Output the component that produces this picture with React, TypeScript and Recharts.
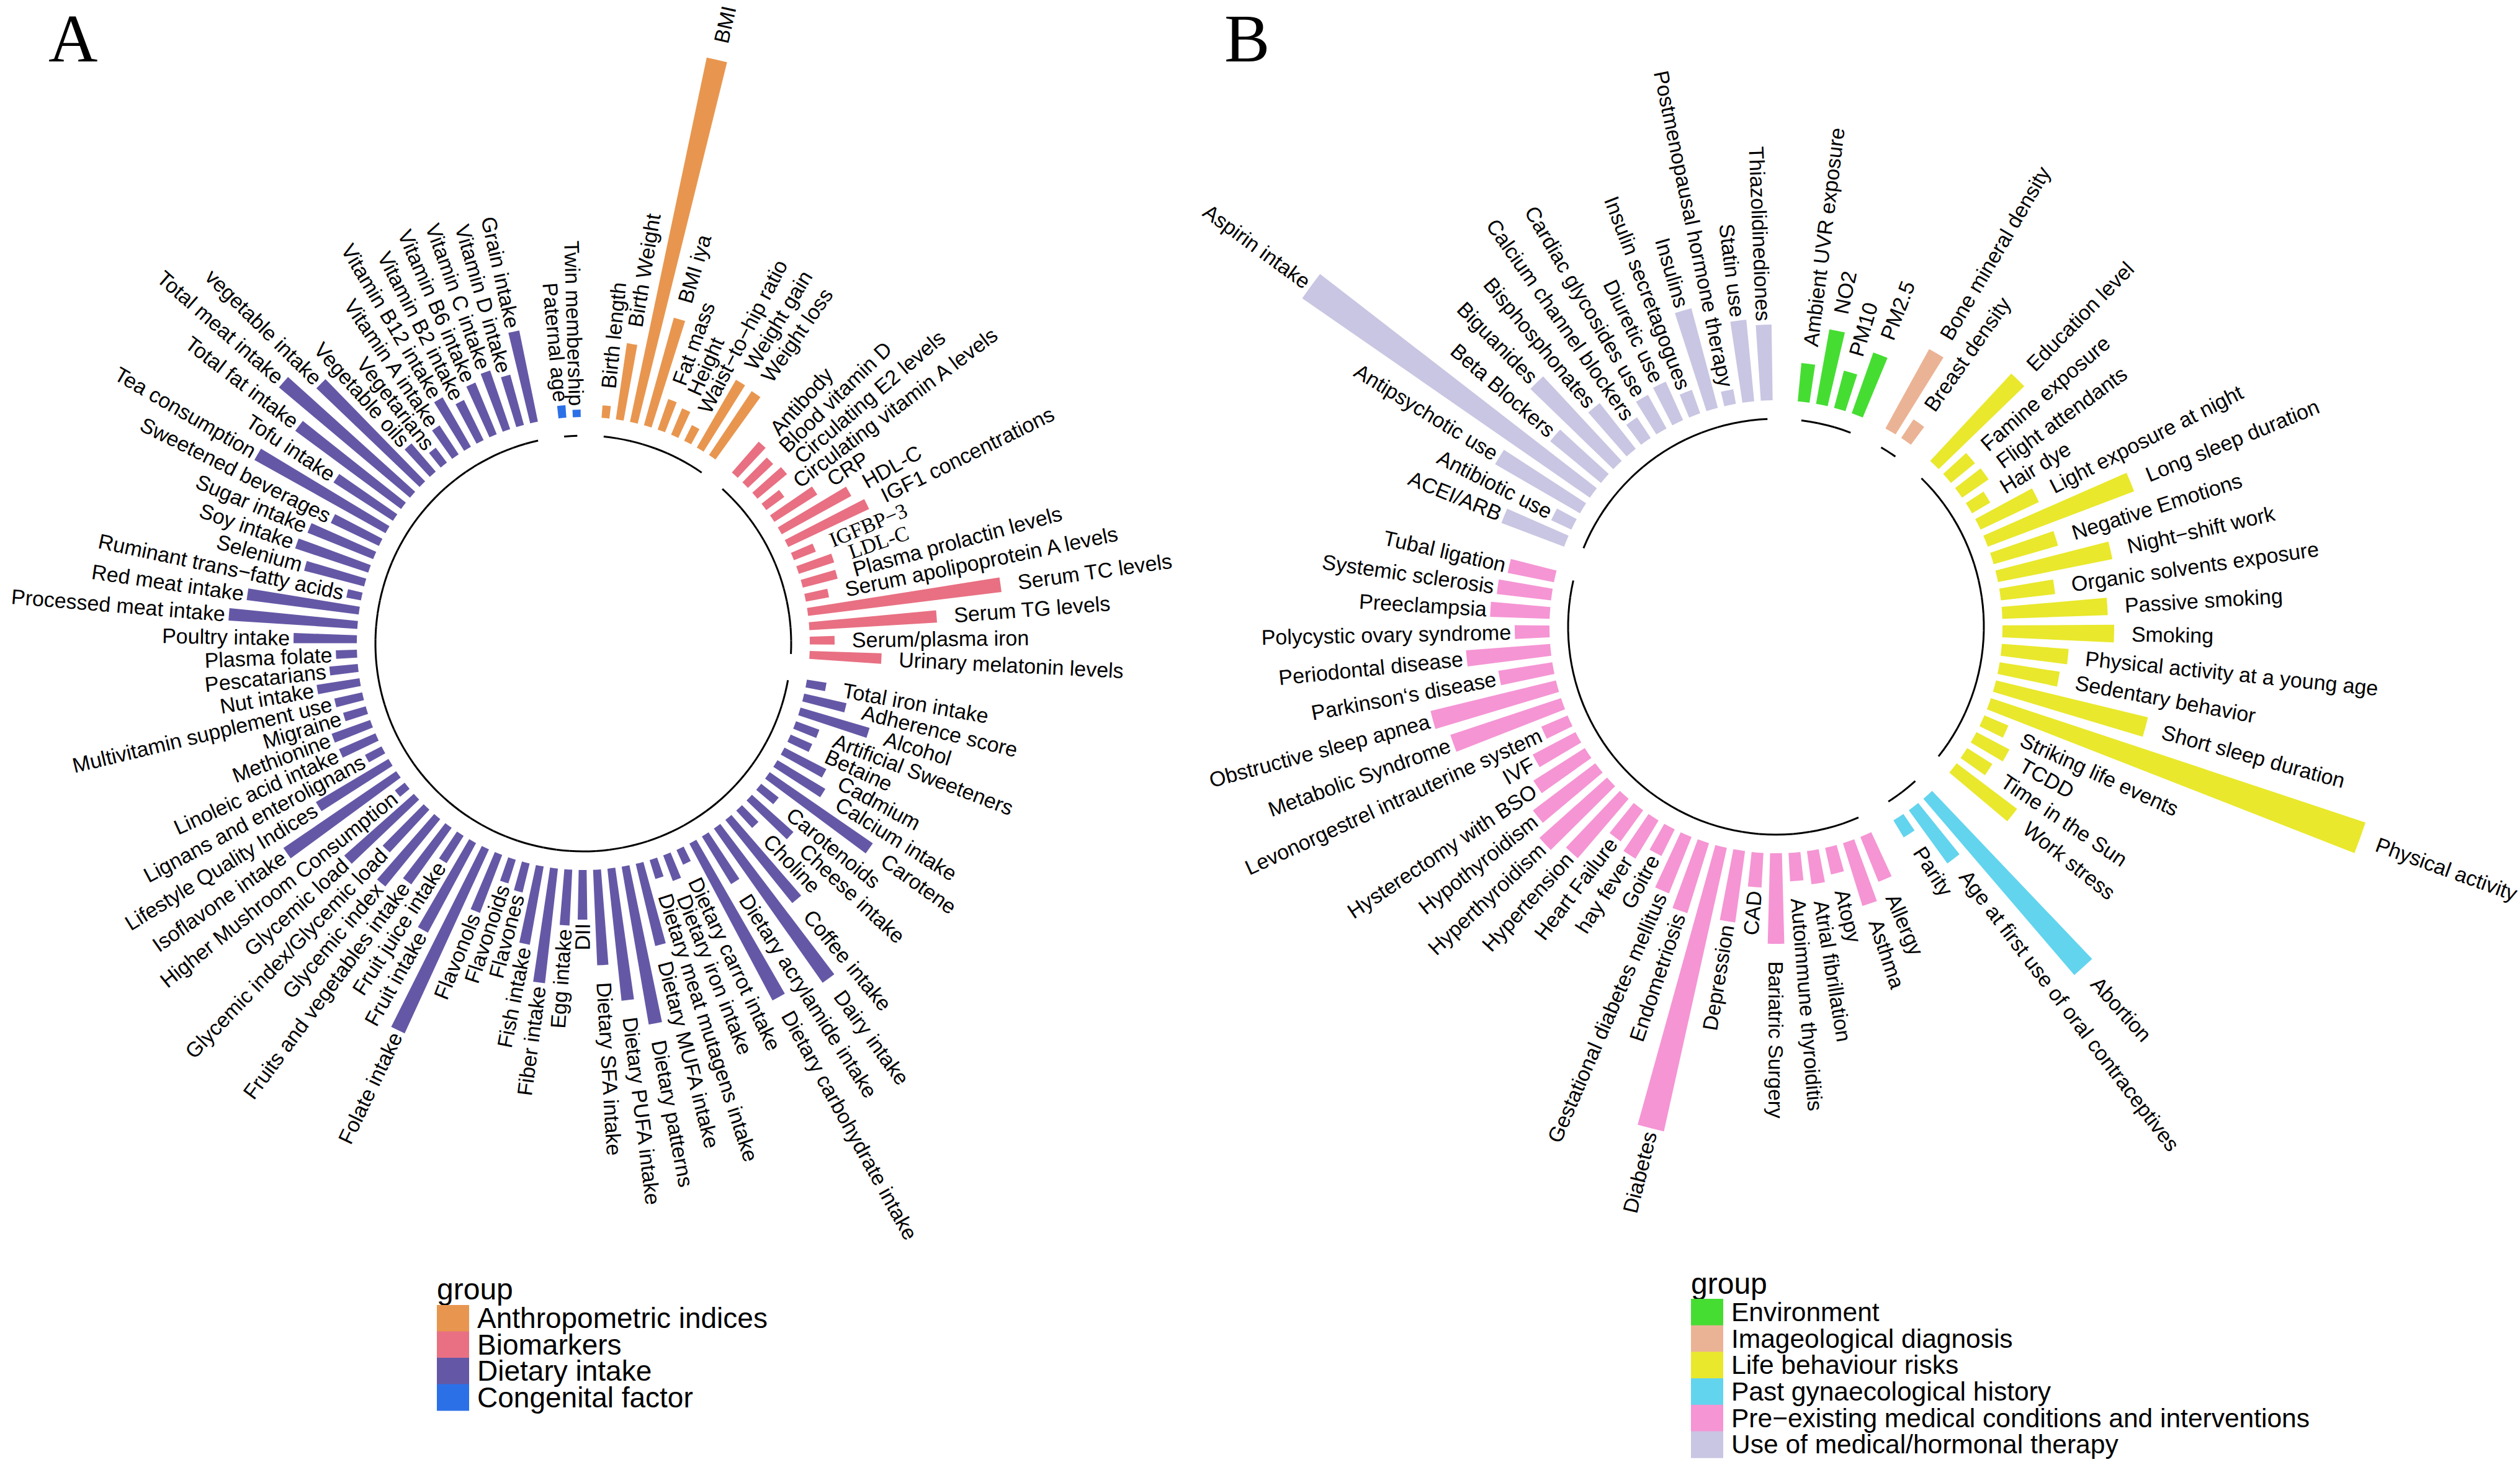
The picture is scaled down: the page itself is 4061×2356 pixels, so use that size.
import React from 'react';
import { RadialBarChart, RadialBar, PolarAngleAxis, PolarRadiusAxis, Sector } from 'recharts';

// ---------------- Panel A data ----------------
const anthroNames = ['Birth length', 'Birth Weight', 'BMI', 'BMI iya', 'Fat mass', 'Height', 'Waist−to−hip ratio', 'Weight gain', 'Weight loss'];
const anthroValues = [1.0, 6.2, 30.0, 9.0, 2.6, 2.3, 1.4, 6.3, 6.2];

const bioNames = ['Antibody', 'Blood vitamin D', 'Circulating E2 levels', 'Circulating vitamin A levels', 'CRP', 'HDL-C', 'IGF1 concentrations', 'IGFBP−3', 'LDL-C', 'Plasma prolactin levels', 'Serum apolipoprotein A levels', 'Serum TC levels', 'Serum TG levels', 'Serum/plasma iron', 'Urinary melatonin levels'];
const bioValues = [3.3, 2.8, 3.1, 1.8, 4.1, 6.4, 7.2, 1.9, 3.0, 2.9, 1.9, 15.7, 10.3, 2.0, 5.8];

const dietNames = ['Total iron intake', 'Adherence score', 'Alcohol', 'Artificial Sweeteners', 'Betaine', 'Cadmium', 'Calcium intake', 'Carotene', 'Carotenoids', 'Cheese intake', 'Choline', 'Coffee intake', 'Dairy intake', 'Dietary acrylamide intake', 'Dietary carbohydrate intake', 'Dietary carrot intake', 'Dietary iron intake', 'Dietary meat mutagens intake', 'Dietary MUFA intake', 'Dietary patterns', 'Dietary PUFA intake', 'Dietary SFA intake', 'DII', 'Egg intake', 'Fiber intake', 'Fish intake', 'Flavones', 'Flavonoids', 'Flavonols', 'Folate intake', 'Fruit intake', 'Fruit juice intake', 'Fruits and vegetables intake', 'Glycemic index', 'Glycemic index/Glycemic load', 'Glycemic load', 'Higher Mushroom Consumption', 'Isoflavone intake', 'Lifestyle Quality Indices', 'Lignans and enterolignans', 'Linoleic acid intake', 'Methionine', 'Migraine', 'Multivitamin supplement use', 'Nut intake', 'Pescatarians', 'Plasma folate', 'Poultry intake', 'Processed meat intake', 'Red meat intake', 'Ruminant trans−fatty acids', 'Selenium', 'Soy intake', 'Sugar intake', 'Sweetened beverages', 'Tea consumption', 'Tofu intake', 'Total fat intake', 'Total meat intake', 'vegetable intake', 'Vegetable oils', 'Vegetarians', 'Vitamin A intake', 'Vitamin B12 intake', 'Vitamin B2 intake', 'Vitamin B6 intake', 'Vitamin C intake', 'Vitamin D intake', 'Grain intake'];
const dietValues = [1.6, 3.5, 5.8, 2.0, 1.9, 3.8, 4.5, 10.1, 1.8, 4.5, 1.9, 8.6, 15.2, 4.5, 14.3, 1.3, 2.2, 1.6, 6.8, 12.9, 10.7, 7.7, 4.0, 4.5, 9.3, 6.4, 2.4, 2.0, 5.0, 16.3, 8.2, 2.6, 5.6, 7.0, 4.7, 7.5, 1.0, 11.0, 6.8, 1.5, 3.2, 3.3, 1.9, 2.3, 3.5, 2.3, 1.7, 5.1, 10.4, 9.1, 1.2, 5.0, 6.2, 5.7, 4.3, 12.1, 5.7, 10.6, 13.8, 11.5, 3.0, 1.5, 2.8, 4.6, 3.6, 4.5, 5.0, 4.2, 7.5];

const congNames = ['Paternal age', 'Twin membership'];
const congValues = [1.0, 0.6];

// ---------------- Panel B data ----------------
const envNames = ['Ambient UVR exposure', 'NO2', 'PM10', 'PM2.5'];
const envValues = [3.1, 6.1, 3.1, 5.2];

const imgNames = ['Bone mineral density', 'Breast density'];
const imgValues = [7.3, 1.8];

const lifeNames = ['Education level', 'Famine exposure', 'Flight attendants', 'Hair dye', 'Light exposure at night', 'Long sleep duration', 'Negative Emotions', 'Night−shift work', 'Organic solvents exposure', 'Passive smoking', 'Smoking', 'Physical activity at a young age', 'Sedentary behavior', 'Short sleep duration', 'Physical activity', 'Striking life events', 'TCDD', 'Time in the Sun', 'Work stress'];
const lifeValues = [9.6, 2.5, 2.6, 1.7, 5.2, 12.6, 5.4, 9.4, 4.4, 8.5, 9.0, 5.4, 4.9, 12.6, 31.8, 2.1, 3.0, 2.4, 6.1];

const pastNames = ['Abortion', 'Age at first use of oral contraceptives', 'Parity'];
const pastValues = [18.7, 5.3, 1.6];

const preNames = ['Allergy', 'Asthma', 'Atopy', 'Atrial fibrillation', 'Autoimmune thyroiditis', 'Bariatric Surgery', 'CAD', 'Depression', 'Diabetes', 'Endometriosis', 'Gestational diabetes mellitus', 'Goitre', 'hay fever', 'Heart Failure', 'Hypertension', 'Hyperthyroidism', 'Hypothyroidism', 'Hysterectomy with BSO', 'IVF', 'Levonorgestrel intrauterine system', 'Metabolic Syndrome', 'Obstructive sleep apnea', 'Parkinson‘s disease', 'Periodontal disease', 'Polycystic ovary syndrome', 'Preeclampsia', 'Systemic sclerosis', 'Tubal ligation'];
const preValues = [3.9, 5.3, 2.2, 2.7, 2.3, 7.3, 2.8, 5.8, 23.4, 5.9, 4.9, 2.4, 3.6, 3.1, 6.3, 7.3, 6.3, 4.9, 3.9, 2.3, 9.4, 10.4, 4.4, 6.8, 2.8, 4.8, 4.4, 3.8];

const useNames = ['ACEI/ARB', 'Antibiotic use', 'Antipsychotic use', 'Aspirin intake', 'Beta Blockers', 'Biguanides', 'Bisphosphonates', 'Calcium channel blockers', 'Cardiac glycosides use', 'Diuretic use', 'Insulin secretagogues', 'Insulins', 'Postmenopausal hormone therapy', 'Statin use', 'Thiazolidinediones'];
const useValues = [5.4, 1.8, 7.9, 28.2, 5.3, 9.3, 4.7, 2.0, 3.1, 3.4, 2.0, 8.3, 1.2, 6.6, 6.1];

const groupLabelsA = ['Anthropometric indices', 'Biomarkers', 'Dietary intake', 'Congenital factor'];
const groupColorsA = ['#E8964F', '#E87082', '#6458A6', '#2C70E8'];
const groupLabelsB = ['Environment', 'Imageological diagnosis', 'Life behaviour risks', 'Past gynaecological history', 'Pre−existing medical conditions and interventions', 'Use of medical/hormonal therapy'];
const groupColorsB = ['#46DD33', '#EBB395', '#E9E82C', '#62D4EE', '#F595D4', '#C9C6E3'];

const serifLabels = ['IGFBP−3', 'LDL-C'];

type Slot = { name: string; value: number; gap: boolean; color?: string; last?: boolean };

function buildSlots(prefix: string, names: string[][], values: number[][], colors: string[]): Slot[] {
  const out: Slot[] = [];
  names.forEach((grp, gi) => {
    out.push({ name: `${prefix}-gap-${gi}`, value: 0, gap: true });
    grp.forEach((nm, i) => {
      out.push({ name: nm, value: values[gi][i], gap: false, color: colors[gi], last: i === grp.length - 1 });
    });
  });
  return out;
}

const dataA = buildSlots('A', [anthroNames, bioNames, dietNames, congNames], [anthroValues, bioValues, dietValues, congValues], groupColorsA);
const dataB = buildSlots('B', [envNames, imgNames, lifeNames, pastNames, preNames, useNames], [envValues, imgValues, lifeValues, pastValues, preValues, useValues], groupColorsB);

const SANS = '"Liberation Sans", Arial, Helvetica, sans-serif';
const SERIF = '"Liberation Serif", "Times New Roman", serif';
const RAD = Math.PI / 180;

function makeShape(n: number) {
  return (props: any) => {
    const entry = props && props.payload && props.payload.name !== undefined ? props.payload : props;
    if (!entry || entry.gap) return <g />;
    const cx = Number(props.cx);
    const cy = Number(props.cy);
    const ir = Number(props.innerRadius);
    const or = Number(props.outerRadius);
    const sa = Number(props.startAngle);
    const ea = Number(props.endAngle);
    const v = Number(entry.value);
    const unit = v > 0 ? (or - ir) / v : 20;
    const mid = (sa + ea) / 2;
    const step = 360 / n;
    const pt = (r: number, a: number) => [cx + r * Math.cos(-a * RAD), cy + r * Math.sin(-a * RAD)];
    const arcR = ir - 1.5 * unit;
    let arc = null;
    if (!entry.last) {
      const p0 = pt(arcR, mid);
      const p1 = pt(arcR, mid - step);
      arc = <path d={`M${p0[0]},${p0[1]} A${arcR},${arcR} 0 0 1 ${p1[0]},${p1[1]}`} fill="none" stroke="#000" strokeWidth={3} />;
    }
    const right = Math.cos(mid * RAD) > -1e-6;
    const rl = or + (right ? 1.4 : 0.3) * unit;
    const lp = pt(rl, mid);
    const rot = right ? -mid : 180 - mid;
    const serif = serifLabels.indexOf(entry.name) >= 0;
    return (
      <g>
        <Sector cx={cx} cy={cy} innerRadius={ir} outerRadius={or} startAngle={sa} endAngle={ea} fill={entry.color} stroke="none" />
        {arc}
        <text
          x={lp[0]}
          y={lp[1]}
          transform={`rotate(${rot}, ${lp[0]}, ${lp[1]})`}
          textAnchor={right ? 'start' : 'end'}
          dominantBaseline="central"
          fontSize={34}
          fontFamily={serif ? SERIF : SANS}
          fill="#000"
        >
          {entry.name}
        </text>
      </g>
    );
  };
}

const shapeA = makeShape(dataA.length);
const shapeB = makeShape(dataB.length);

function Panel({ data, cx, cy, shape }: { data: Slot[]; cx: number; cy: number; shape: any }) {
  const step = 360 / data.length;
  const start = 90 - step;
  return (
    <div style={{ position: 'absolute', left: 0, top: 0 }}>
      <RadialBarChart
        width={4061}
        height={2356}
        cx={cx}
        cy={cy}
        innerRadius={365}
        outerRadius={1065}
        startAngle={start}
        endAngle={start - 360}
        data={data}
        layout="centric"
        barCategoryGap="18%"
        margin={{ top: 0, right: 0, bottom: 0, left: 0 }}
      >
        <PolarAngleAxis type="category" dataKey="name" tick={false} axisLine={false} tickLine={false} />
        <PolarRadiusAxis type="number" domain={[0, 35]} tick={false} axisLine={false} tickLine={false} />
        <RadialBar dataKey="value" isAnimationActive={false} shape={shape} />
      </RadialBarChart>
    </div>
  );
}

function LegendSvg({ x, titleY, rowsY, rowH, labels, colors, fontSize }: { x: number; titleY: number; rowsY: number; rowH: number; labels: string[]; colors: string[]; fontSize: number }) {
  return (
    <g>
      <text x={x} y={titleY} fontSize={48} fontFamily={SANS} fill="#000">group</text>
      {labels.map((lb, i) => (
        <g key={lb}>
          <rect x={x} y={rowsY + i * rowH} width={52} height={rowH + 0.5} fill={colors[i]} />
          <text x={x + 65} y={rowsY + i * rowH + rowH / 2} dominantBaseline="central" fontSize={fontSize} fontFamily={SANS} fill="#000">{lb}</text>
        </g>
      ))}
    </g>
  );
}

export default function App() {
  return (
    <div style={{ position: 'absolute', left: 0, top: 0, width: 4061, height: 2356, background: '#fff', overflow: 'hidden' }}>
      <Panel data={dataA} cx={940} cy={1037} shape={shapeA} />
      <Panel data={dataB} cx={2862} cy={1010} shape={shapeB} />
      <svg width={4061} height={2356} style={{ position: 'absolute', left: 0, top: 0, pointerEvents: 'none' }}>
        <text x={78} y={99} fontSize={110} fontFamily={SERIF} fill="#000">A</text>
        <text x={1973} y={99} fontSize={110} fontFamily={SERIF} fill="#000">B</text>
        <LegendSvg x={704} titleY={2094} rowsY={2103} rowH={42.5} labels={groupLabelsA} colors={groupColorsA} fontSize={46} />
        <LegendSvg x={2725} titleY={2085} rowsY={2093} rowH={42.7} labels={groupLabelsB} colors={groupColorsB} fontSize={42.5} />
      </svg>
    </div>
  );
}
